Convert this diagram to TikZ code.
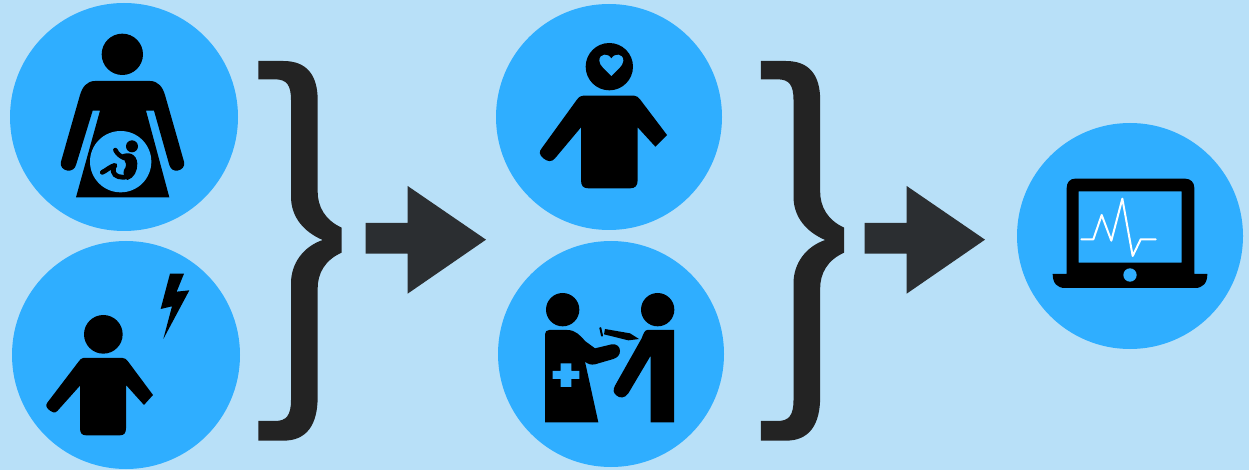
\documentclass[tikz,border=0pt]{standalone}
\definecolor{pagebg}{HTML}{B8E0F8}
\definecolor{discblue}{HTML}{2FAEFF}
\definecolor{bracegrey}{HTML}{232323}
\definecolor{arrowgrey}{HTML}{2B2E31}
\tikzset{
  disc/.style={circle,fill=discblue,draw=none,minimum size=228pt,inner sep=0pt},
  discsmall/.style={disc,minimum size=226pt},
  sil/.style={fill=black,draw=none},
  hole/.style={fill=discblue,draw=none},
  brace/.style={fill=bracegrey,draw=none},
  flow/.style={fill=arrowgrey,draw=none},
  zoomed/.style={x=0.33333pt,y=-0.33333pt},
}
\newcommand{\PersonA}{%
  (280,287) -- (432,287) .. controls (440,287) and (445,292) .. (450,298)
  -- (531,405) -- (496,440) -- (443,382) -- (443,540)
  .. controls (443,558) and (435,565) .. (420,565) -- (295,565)
  .. controls (280,565) and (273,558) .. (273,540) -- (273,382)
  -- (195,475) .. controls (185,487) and (172,485) .. (160,475)
  .. controls (148,465) and (146,455) .. (155,445)
  -- (260,300) .. controls (268,290) and (272,287) .. (280,287) -- cycle
}
\newcommand{\BraceShape}{%
  (25,33) -- (100,33) .. controls (170,33) and (203,75) .. (203,150)
  -- (203,425) .. controls (203,470) and (225,510) .. (275,533)
  -- (275,608) .. controls (225,630) and (203,670) .. (203,715)
  -- (203,1040) .. controls (203,1125) and (170,1172) .. (100,1172)
  -- (25,1172) -- (25,1113) -- (75,1113) .. controls (110,1113) and (123,1095) .. (123,1050)
  -- (123,700) .. controls (123,640) and (160,590) .. (218,570)
  .. controls (160,545) and (123,500) .. (123,440)
  -- (123,150) .. controls (123,105) and (110,88) .. (75,88) -- (25,88) -- cycle
}
\newcommand{\ArrowShape}{%
  (347,519) -- (473,519) -- (473,408) -- (708,569) -- (473,731) -- (473,611) -- (347,611) -- cycle
}
\begin{document}
\begin{tikzpicture}[x=1pt,y=-1pt]
\useasboundingbox (0,0) rectangle (1249,470);
\fill[pagebg] (0,0) rectangle (1249,470);
\node[disc] (d1) at (124,117) {};
\node[disc] (d2) at (126,355) {};
\node[discsmall] (d3) at (609,117) {};
\node[discsmall] (d4) at (611,354) {};
\node[discsmall] (d5) at (1130,236) {};

% pregnant woman
\begin{scope}[zoomed]
\fill[sil] (367,163) circle[radius=62];
\fill[sil] (285,243) -- (450,243) .. controls (475,243) and (488,262) .. (495,285)
  -- (552,485) .. controls (556,500) and (545,510) .. (532,512)
  .. controls (520,513) and (512,507) .. (508,495)
  -- (462,332) -- (438,332) -- (508,592) -- (228,592) -- (300,332) -- (278,332)
  -- (228,495) .. controls (224,507) and (215,513) .. (203,512)
  .. controls (190,510) and (179,500) .. (183,485)
  -- (240,285) .. controls (247,262) and (260,243) .. (285,243) -- cycle;
\fill[hole] (362,485) circle[radius=92];
\fill[sil] (396,439) circle[radius=18];
\draw[line width=4.5pt,line cap=round] (346,450) .. controls (352,462) and (360,468) .. (372,474);
\fill[sil] (362,466) .. controls (385,452) and (410,462) .. (412,490)
  .. controls (413,512) and (402,535) .. (382,540)
  .. controls (372,528) and (368,522) .. (372,510)
  .. controls (382,498) and (380,485) .. (362,466) -- cycle;
\draw[line width=4.8pt,line cap=round,line join=round]
  (385,530) .. controls (365,535) and (342,530) .. (340,515)
  .. controls (338,505) and (342,500) .. (345,496)
  .. controls (330,500) and (318,512) .. (307,517);
\end{scope}

% child with bolt
\begin{scope}[zoomed,shift={(0pt,-235pt)}]
\fill[sil] (310,298) circle[radius=58];
\fill[sil] (250,369) -- (368,369) .. controls (375,369) and (379,373) .. (383,378)
  -- (459,480) -- (432,510) -- (378,450) -- (378,580)
  .. controls (378,594) and (372,601) .. (360,601) -- (258,601)
  .. controls (246,601) and (240,594) .. (240,580) -- (240,452)
  -- (172,528) .. controls (165,535) and (157,533) .. (150,527)
  .. controls (140,519) and (135,512) .. (142,503)
  -- (235,381) .. controls (240,374) and (244,369) .. (250,369) -- cycle;
\fill[sil] (510,116) -- (552,116) -- (530,170) -- (568,166) -- (490,312)
  -- (516,214) -- (482,222) -- cycle;
\end{scope}

% person with heart
\begin{scope}[zoomed,shift={(490pt,0pt)}]
\fill[sil] (358,200) circle[radius=71];
\fill[hole] (364,228) .. controls (350,212) and (328,198) .. (328,182)
  .. controls (328,160) and (355,158) .. (364,176)
  .. controls (373,158) and (400,160) .. (400,182)
  .. controls (400,198) and (378,212) .. (364,228) -- cycle;
\fill[sil] \PersonA;
\end{scope}

% vaccination
\begin{scope}[zoomed,shift={(490pt,-235pt)}]
\fill[sil] (218,224) circle[radius=50];
\fill[sil] (503,224) circle[radius=50];
\fill[sil] (178,285) -- (232,285) .. controls (255,285) and (270,300) .. (285,318)
  -- (315,340) -- (365,328) .. controls (380,326) and (390,335) .. (390,348)
  .. controls (390,360) and (382,368) .. (370,372)
  -- (315,388) .. controls (303,390) and (295,388) .. (285,380)
  -- (325,562) -- (165,562) -- (165,298) .. controls (165,290) and (170,285) .. (178,285) -- cycle;
\fill[hole] (212,385) -- (244,385) -- (244,408) -- (268,408) -- (268,432) -- (244,432)
  -- (244,456) -- (212,456) -- (212,432) -- (188,432) -- (188,408) -- (212,408) -- cycle;
\fill[sil] (472,285) -- (552,285) -- (552,562) -- (482,562) -- (482,362)
  -- (415,475) .. controls (405,490) and (390,490) .. (380,482)
  .. controls (370,474) and (368,465) .. (375,452)
  -- (455,310) .. controls (460,295) and (465,285) .. (472,285) -- cycle;
\fill[sil] (345,282) -- (420,295) -- (447,312) -- (415,316) -- (342,298) -- cycle;
\draw[line width=2pt,line cap=round] (331,279) -- (336,302);
\end{scope}

% laptop
\begin{scope}[zoomed,shift={(1010pt,-120pt)}]
\fill[sil,even odd rule] (195,176) -- (525,176) .. controls (542,176) and (553,187) .. (553,204)
  -- (553,462) -- (592,462) .. controls (592,490) and (578,504) .. (555,504)
  -- (165,504) .. controls (142,504) and (128,490) .. (128,462) -- (170,462) -- (170,204)
  .. controls (170,187) and (180,176) .. (195,176) -- cycle
  (206,214) rectangle (515,428);
\fill[hole] (360,465) circle[radius=20];
\draw[white,line width=2pt,line join=round,line cap=round]
  (214,358) -- (250,358) -- (275,285) -- (304,362) -- (337,236) -- (368,408)
  -- (392,358) -- (437,358);
\end{scope}

% braces and arrows
\begin{scope}[zoomed,shift={(250pt,-50pt)}]
\fill[brace] \BraceShape;
\fill[flow] \ArrowShape;
\end{scope}
\begin{scope}[zoomed,shift={(752.5pt,-50pt)}]
\fill[brace] \BraceShape;
\end{scope}
\begin{scope}[zoomed,shift={(749pt,-50pt)}]
\fill[flow] \ArrowShape;
\end{scope}
\end{tikzpicture}
\end{document}
